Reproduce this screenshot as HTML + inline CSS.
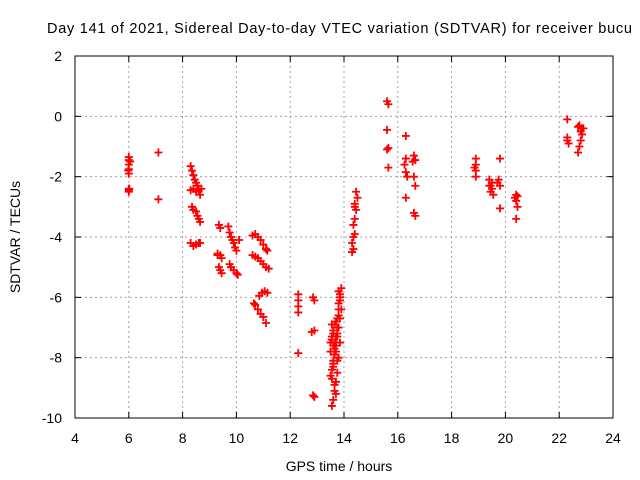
<!DOCTYPE html>
<html><head><meta charset="utf-8"><style>
body{margin:0;background:#fff}
svg{display:block;font-family:"Liberation Sans",sans-serif}
</style></head><body>
<svg id="c" width="640" height="480">
<rect width="640" height="480" fill="#fff"/>
<text x="47" y="33" font-size="14.5" textLength="585" lengthAdjust="spacing">Day 141 of 2021, Sidereal Day-to-day VTEC variation (SDTVAR) for receiver bucu</text>
<text x="339" y="471" font-size="14" text-anchor="middle">GPS time / hours</text>
<text x="20" y="237" font-size="14" text-anchor="middle" transform="rotate(-90 20 237)">SDTVAR / TECUs</text>
<g id="grid"></g><g id="ticks"></g><g id="pts"></g>
<rect x="75" y="56" width="538" height="362" fill="none" stroke="#000"/>
</svg>
<script>
const xTicks=[4,6,8,10,12,14,16,18,20,22,24];
const yTicks=[2,0,-2,-4,-6,-8,-10];
const hours=[6,6,6,6,6,6,6,6,6.05,5.98,6.02,7.1,7.1,
8.3,8.35,8.4,8.45,8.5,8.55,8.6,8.4,8.3,8.5,8.65,8.7,
8.35,8.4,8.5,8.55,8.6,8.65,8.3,8.4,8.5,8.6,8.65,
9.35,9.4,9.3,9.4,9.45,9.35,9.4,9.45,9.3,
9.7,9.75,9.8,9.85,9.9,9.95,10.0,9.75,9.8,9.9,10.0,10.05,10.1,
10.6,10.7,10.8,10.9,11.0,11.1,11.15,10.6,10.7,10.8,10.9,11.0,11.1,11.2,10.65,10.7,10.8,10.9,11.0,11.1,10.85,10.95,11.05,11.15,
12.3,12.3,12.3,12.3,12.3,12.85,12.9,12.8,12.9,12.85,12.9,
13.5,13.55,13.6,13.65,13.7,13.75,13.8,13.85,13.9,13.55,13.6,13.65,13.7,13.75,13.8,13.85,13.5,13.55,13.6,13.65,13.7,13.75,13.8,13.6,13.65,13.7,13.75,13.8,13.85,13.55,13.6,13.65,13.7,13.75,13.5,13.55,13.6,13.65,13.7,13.55,13.6,13.65,13.7,13.75,13.8,13.85,13.9,13.85,13.8,
14.3,14.35,14.3,14.4,14.35,14.4,14.45,14.4,14.5,14.45,14.35,14.4,
15.6,15.65,15.6,15.65,15.6,15.65,
16.3,16.3,16.25,16.3,16.35,16.3,16.6,16.65,16.6,16.65,16.6,16.65,16.55,
18.9,18.9,18.9,18.9,18.85,
19.4,19.45,19.5,19.55,19.45,19.5,19.4,19.8,19.75,19.8,19.8,19.7,
20.4,20.4,20.45,20.4,20.35,20.45,
22.3,22.3,22.35,22.3,22.7,22.75,22.8,22.85,22.9,22.75,22.7,22.8,22.85];
const values=[-1.35,-1.45,-1.6,-1.75,-1.9,-2.4,-2.5,-2.45,-1.5,-1.8,-2.4,-1.2,-2.75,
-1.65,-1.8,-1.95,-2.1,-2.2,-2.3,-2.45,-2.4,-2.45,-2.5,-2.6,-2.4,
-3.0,-3.1,-3.15,-3.3,-3.4,-3.5,-4.2,-4.3,-4.25,-4.2,-4.2,
-3.6,-3.7,-4.55,-4.6,-4.7,-5.0,-5.1,-5.2,-4.6,
-3.65,-3.85,-4.0,-4.1,-4.2,-4.35,-4.45,-4.9,-5.0,-5.1,-5.2,-5.25,-4.1,
-3.95,-3.9,-4.0,-4.1,-4.25,-4.4,-4.45,-4.6,-4.65,-4.7,-4.8,-4.9,-5.0,-5.05,-6.2,-6.25,-6.4,-6.55,-6.65,-6.85,-5.95,-5.85,-5.8,-5.85,
-5.9,-6.1,-6.3,-6.5,-7.85,-6.0,-6.1,-7.15,-7.1,-9.25,-9.3,
-8.6,-8.4,-8.2,-7.9,-7.6,-7.3,-7.0,-6.7,-6.4,-9.6,-9.4,-9.1,-8.8,-8.5,-8.0,-7.5,-7.8,-7.4,-7.1,-6.9,-6.8,-6.7,-6.6,-8.1,-7.7,-7.3,-7.0,-6.4,-6.1,-8.7,-8.3,-7.9,-7.5,-7.2,-7.5,-7.3,-7.6,-8.9,-9.2,-6.9,-7.2,-7.5,-7.8,-8.1,-6.2,-5.9,-5.7,-6.0,-5.8,
-4.5,-4.4,-4.2,-3.9,-3.6,-3.4,-3.1,-3.0,-2.7,-2.5,-4.0,-2.9,
0.5,0.4,-0.45,-1.05,-1.1,-1.7,
-0.65,-1.4,-1.6,-1.85,-2.0,-2.7,-1.3,-1.45,-2.0,-2.3,-3.2,-3.3,-1.5,
-1.4,-1.6,-1.8,-2.0,-1.7,
-2.1,-2.3,-2.4,-2.6,-2.5,-2.2,-2.3,-1.4,-2.1,-2.3,-3.05,-2.2,
-2.6,-2.8,-3.0,-3.4,-2.7,-2.65,
-0.1,-0.7,-0.9,-0.8,-1.2,-1.0,-0.8,-0.6,-0.4,-0.3,-0.35,-0.5,-0.4];
const X=h=>75+(h-4)*(538/20), Y=v=>56+(2-v)*(362/12);
const NS='http://www.w3.org/2000/svg';
function mk(t,a,p){const e=document.createElementNS(NS,t);for(const k in a)e.setAttribute(k,a[k]);p.appendChild(e);return e;}
const g=document.getElementById('grid'),tk=document.getElementById('ticks'),pts=document.getElementById('pts');
xTicks.forEach(t=>{const x=X(t);
 if(t>4&&t<24){const l=mk('line',{x1:x,x2:x,y1:56,y2:418,stroke:'#a0a0a0','stroke-dasharray':'2,3'},g);
 
 }
 mk('line',{x1:x,x2:x,y1:418,y2:412,stroke:'#000'},tk);mk('line',{x1:x,x2:x,y1:56,y2:62,stroke:'#000'},tk);
 const tx=mk('text',{x:x,y:443,'font-size':14,'text-anchor':'middle'},tk);tx.textContent=t;
 
 });
yTicks.forEach(t=>{const y=Y(t);
 if(t<2&&t>-10){const l=mk('line',{x1:75,x2:613,y1:y,y2:y,stroke:'#a0a0a0','stroke-dasharray':'2,3'},g);
 
 }
 mk('line',{x1:75,x2:81,y1:y,y2:y,stroke:'#000'},tk);mk('line',{x1:613,x2:607,y1:y,y2:y,stroke:'#000'},tk);
 const tx=mk('text',{x:62,y:y+5,'font-size':14,'text-anchor':'end'},tk);tx.textContent=t;
 
 });
hours.forEach((h,i)=>{const x=X(h),y=Y(values[i]);
 const p=mk('path',{d:`M${x-4} ${y}H${x+4}M${x} ${y-4}V${y+4}`,stroke:'#f00','stroke-width':1.8},pts);
 
 });
</script>
</body></html>
